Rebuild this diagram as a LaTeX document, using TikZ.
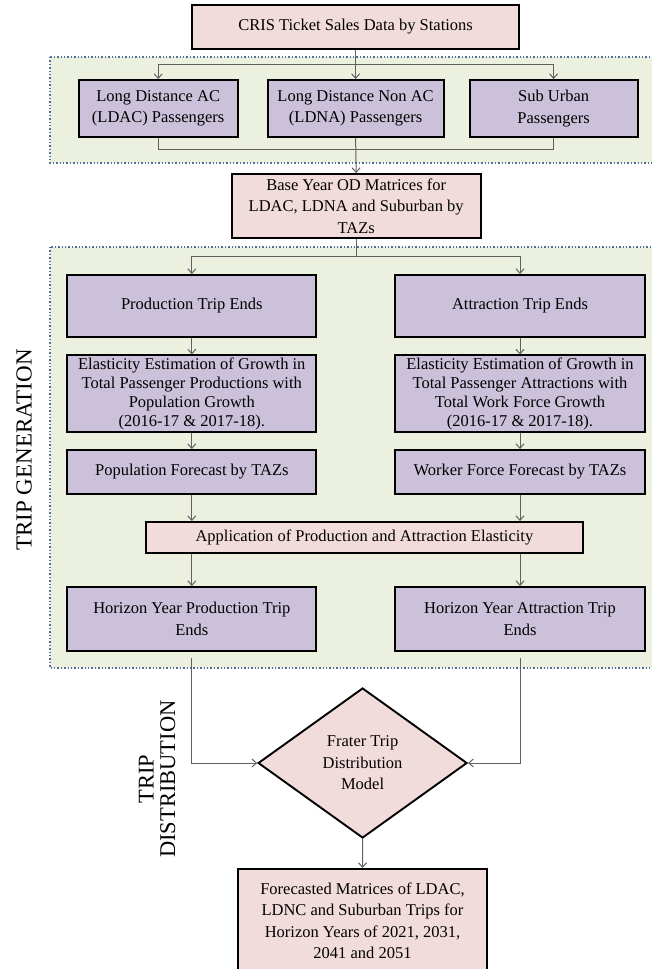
\documentclass[tikz,border=0pt]{standalone}
\usepackage{fontspec}
\setmainfont{Liberation Serif}
\usetikzlibrary{arrows.meta,shapes.geometric}
\definecolor{pinkf}{HTML}{F2DCDB}
\definecolor{purpf}{HTML}{CCC1DA}
\definecolor{greenf}{HTML}{EBF1DE}
\definecolor{dotc}{HTML}{4F6F98}
\definecolor{linec}{HTML}{606060}
\tikzset{
  box/.style={draw=black, line width=1.9pt, inner sep=2pt, align=center,
    font=\fontsize{16.5}{21.5}\selectfont},
  pbox/.style={box, fill=pinkf},
  ubox/.style={box, fill=purpf},
  panel/.style={draw=dotc, fill=greenf, dotted, line width=1.4pt},
  conn/.style={draw=linec, line width=1pt},
  arr/.style={conn, -{Straight Barb[length=4.5pt,width=8pt]}},
}
\begin{document}
\begin{tikzpicture}[x=1pt,y=-1pt]
\useasboundingbox (0,0) rectangle (651,969);
\fill[white] (0,0) rectangle (651,969);
% panels
\path[panel] (50,57) rectangle (664,163);
\path[panel] (50,247) rectangle (664,668);
% nodes
\node[pbox, minimum width=327pt, minimum height=44pt] (cris) at (355.6,27) {CRIS Ticket Sales Data by Stations};
\node[ubox, minimum width=159pt, minimum height=57pt] (ldac) at (158.2,108.5) {Long Distance AC\\(LDAC) Passengers};
\node[ubox, minimum width=176pt, minimum height=57pt] (ldna) at (355.6,108.5) {Long Distance Non AC\\(LDNA) Passengers};
\node[ubox, minimum width=168pt, minimum height=57pt] (sub) at (553.6,108.5) {Sub Urban\\Passengers};
\node[pbox, minimum width=249pt, minimum height=64pt] (base) at (356.2,206) {Base Year OD Matrices for\\LDAC, LDNA and Suburban by\\TAZs};
\node[ubox, minimum width=249pt, minimum height=62pt] (prod) at (191.8,306) {Production Trip Ends};
\node[ubox, minimum width=250pt, minimum height=62pt] (attr) at (520,306) {Attraction Trip Ends};
\node[ubox, minimum width=249pt, minimum height=75pt, font=\fontsize{16.5}{19}\selectfont] (elp) at (191.8,393.5) {Elasticity Estimation of Growth in\\Total Passenger Productions with\\Population Growth\\(2016-17 \& 2017-18).};
\node[ubox, minimum width=250pt, minimum height=75pt, font=\fontsize{16.5}{19}\selectfont] (ela) at (520,393.5) {Elasticity Estimation of Growth in\\Total Passenger Attractions with\\Total Work Force Growth\\(2016-17 \& 2017-18).};
\node[ubox, minimum width=249pt, minimum height=44pt] (pop) at (191.8,472) {Population Forecast by TAZs};
\node[ubox, minimum width=250pt, minimum height=44pt] (wf) at (520,472) {Worker Force Forecast by TAZs};
\node[pbox, minimum width=437pt, minimum height=31pt] (app) at (364.4,537.5) {Application of Production and Attraction Elasticity};
\node[ubox, minimum width=249pt, minimum height=64pt] (hp) at (191.8,619) {Horizon Year Production Trip\\Ends};
\node[ubox, minimum width=250pt, minimum height=64pt] (ha) at (520,619) {Horizon Year Attraction Trip\\Ends};
\node[pbox, diamond, inner sep=0pt, minimum width=209pt, minimum height=150pt] (dia) at (362.6,763) {Frater Trip\\Distribution\\Model};
\node[pbox, minimum width=249pt, minimum height=104pt, anchor=north] (fin) at (362.5,868) {Forecasted Matrices of LDAC,\\LDNC and Suburban Trips for\\Horizon Years of 2021, 2031,\\2041 and 2051};
% side labels
\node[rotate=90, font=\fontsize{23}{26}\selectfont] (tg) at (24,450) {TRIP GENERATION};
\node[rotate=90, align=center, font=\fontsize{22.5}{21.5}\selectfont] (td) at (157,779) {TRIP\\DISTRIBUTION};
% connectors
\coordinate (b1) at (355.6,64);
\draw[arr] (cris.south) -- (ldna.north);
\draw[conn] (ldac.north |- b1) -- (sub.north |- b1);
\draw[arr] (ldac.north |- b1) -- (ldac.north);
\draw[arr] (sub.north |- b1) -- (sub.north);
\coordinate (m1) at (355.6,149);
\draw[conn] (ldac.south) -- (ldac.south |- m1) -- (sub.south |- m1) -- (sub.south);
\draw[arr] (ldna.south) -- (base.north);
\coordinate (b2) at (356.2,256);
\draw[conn] (base.south) -- (b2);
\draw[conn] (prod.north |- b2) -- (attr.north |- b2);
\draw[arr] (prod.north |- b2) -- (prod.north);
\draw[arr] (attr.north |- b2) -- (attr.north);
\draw[arr] (prod.south) -- (elp.north);
\draw[arr] (attr.south) -- (ela.north);
\draw[arr] (elp.south) -- (pop.north);
\draw[arr] (ela.south) -- (wf.north);
\draw[arr] (pop.south) -- (pop.south |- app.north);
\draw[arr] (wf.south) -- (wf.south |- app.north);
\draw[arr] (hp.north |- app.south) -- (hp.north);
\draw[arr] (ha.north |- app.south) -- (ha.north);
\draw[arr, shorten <=6pt] (hp.south) |- (dia.west);
\draw[arr, shorten <=6pt] (ha.south) |- (dia.east);
\draw[arr] (dia.south) -- (fin.north);
\end{tikzpicture}
\end{document}
